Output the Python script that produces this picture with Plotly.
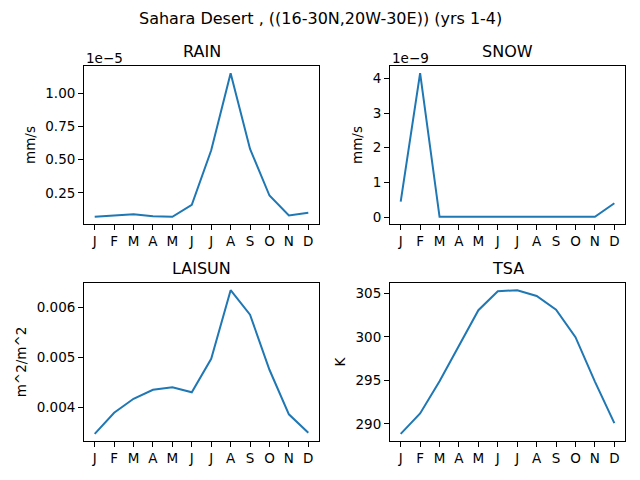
import plotly.graph_objects as go

months = ['J', 'F', 'M', 'A', 'M', 'J', 'J', 'A', 'S', 'O', 'N', 'D']

# monthly means, Sahara Desert, yrs 1-4
rain = [0.07e-5, 0.08e-5, 0.09e-5, 0.075e-5, 0.07e-5, 0.16e-5,
        0.57e-5, 1.15e-5, 0.58e-5, 0.23e-5, 0.08e-5, 0.10e-5]
snow = [0.45e-9, 4.15e-9, 0.01e-9, 0.01e-9, 0.01e-9, 0.01e-9,
        0.01e-9, 0.01e-9, 0.01e-9, 0.01e-9, 0.01e-9, 0.40e-9]
laisun = [0.00347, 0.00389, 0.00417, 0.00435, 0.00440, 0.00430,
          0.00497, 0.00634, 0.00585, 0.00475, 0.00386, 0.00349]
tsa = [288.86, 291.2, 294.9, 298.9, 303.05, 305.23,
       305.35, 304.68, 303.12, 299.95, 294.86, 290.08]

rain_ticks = [0.25e-5, 0.50e-5, 0.75e-5, 1.00e-5]
rain_labels = ['0.25', '0.50', '0.75', '1.00']
snow_ticks = [0, 1e-9, 2e-9, 3e-9, 4e-9]
snow_labels = ['0', '1', '2', '3', '4']
laisun_ticks = [0.004, 0.005, 0.006]
laisun_labels = ['0.004', '0.005', '0.006']
tsa_ticks = [290, 295, 300, 305]
tsa_labels = ['290', '295', '300', '305']

panels = [
    ('RAIN', 'mm/s', rain, rain_ticks, rain_labels, '1e\u22125'),
    ('SNOW', 'mm/s', snow, snow_ticks, snow_labels, '1e\u22129'),
    ('LAISUN', 'm^2/m^2', laisun, laisun_ticks, laisun_labels, None),
    ('TSA', 'K', tsa, tsa_ticks, tsa_labels, None),
]

# page body adds an 8px offset, domains compensate for it
xdoms = [[0.1188, 0.4859], [0.5969, 0.9641], [0.1188, 0.4859], [0.5969, 0.9641]]
ydoms = [[0.55, 0.8792], [0.55, 0.8792], [0.0979, 0.4271], [0.0979, 0.4271]]

font = 'DejaVu Sans'
fig = go.Figure()
annotations = []
x = list(range(12))

for i, (title, unit, vals, tv, tt, offset) in enumerate(panels):
    n = '' if i == 0 else str(i + 1)
    fig.add_trace(go.Scatter(
        x=x, y=vals, mode='lines',
        line=dict(color='#1f77b4', width=2),
        xaxis='x' + n, yaxis='y' + n, showlegend=False
    ))
    lo, hi = min(vals), max(vals)
    pad = 0.05 * (hi - lo)
    axis_style = dict(
        showline=True, linecolor='black', linewidth=1, mirror=True,
        ticks='outside', ticklen=5, tickcolor='black', tickwidth=1,
        showgrid=False, zeroline=False,
        tickfont=dict(family=font, size=13.5, color='black'),
    )
    fig.update_layout(**{
        'xaxis' + n: dict(
            domain=xdoms[i], anchor='y' + n, range=[-0.55, 11.55],
            tickvals=x, ticktext=months, **axis_style
        ),
        'yaxis' + n: dict(
            domain=ydoms[i], anchor='x' + n, range=[lo - pad, hi + pad],
            tickvals=tv, ticktext=tt,
            title=dict(text=unit, font=dict(family=font, size=13.5, color='black'),
                       standoff=6),
            **axis_style
        ),
    })
    annotations.append(dict(
        text=title, xref='paper', yref='paper',
        x=sum(xdoms[i]) / 2, y=ydoms[i][1], xanchor='center', yanchor='bottom',
        yshift=3, showarrow=False, font=dict(family=font, size=16, color='black')
    ))
    if offset:
        annotations.append(dict(
            text=offset, xref='paper', yref='paper',
            x=xdoms[i][0], y=ydoms[i][1], xanchor='left', yanchor='bottom',
            yshift=-2, showarrow=False, font=dict(family=font, size=13.5, color='black')
        ))

annotations.append(dict(
    text='Sahara Desert , ((16-30N,20W-30E)) (yrs 1-4)', xref='paper', yref='paper',
    x=0.4875, y=1, xanchor='center', yanchor='top', yshift=1, showarrow=False,
    font=dict(family=font, size=16, color='black')
))

fig.update_layout(
    width=640, height=480,
    margin=dict(l=0, r=0, t=0, b=0),
    paper_bgcolor='white', plot_bgcolor='white',
    annotations=annotations,
)

fig.write_html("out.html")
